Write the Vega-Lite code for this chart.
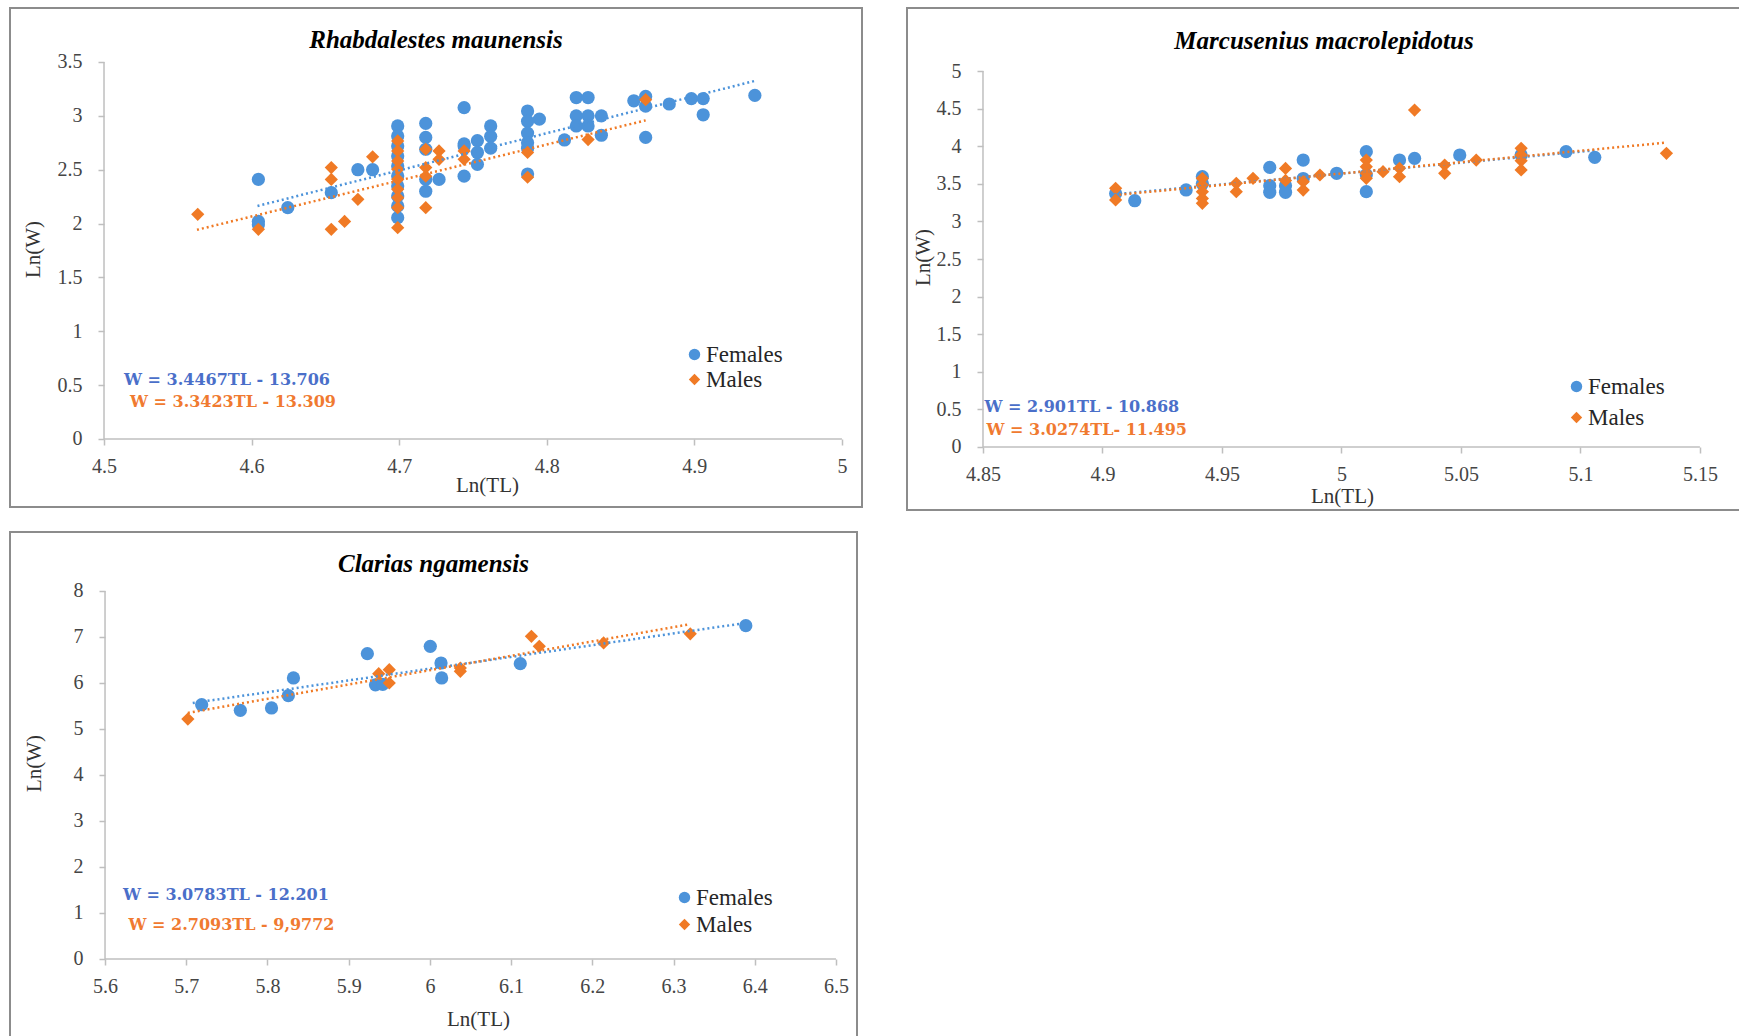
{
  "$schema": "https://vega.github.io/schema/vega-lite/v6.json",
  "padding": {"left": 9, "top": 7, "right": 0, "bottom": 0},
  "background": "white",
  "config": {
    "view": {"stroke": "#8c8c8c", "strokeWidth": 2},
    "axis": {"grid": false, "domain": false, "tickColor": "#bfbfbf", "tickWidth": 1.5, "tickSize": 6, "labelFont": "Liberation Serif", "labelFontSize": 20, "labelColor": "#454545", "titleFont": "Liberation Serif", "titleFontSize": 21, "titleFontWeight": "normal", "titleColor": "#333333"},
    "axisX": {"labelPadding": 11},
    "axisY": {"labelPadding": 16},
    "legend": {"labelFont": "Liberation Serif", "labelFontSize": 23, "labelColor": "#262626", "symbolSize": 130, "symbolStrokeWidth": 0, "labelOffset": 0, "title": null},
    "title": {"font": "Liberation Serif", "fontStyle": "italic", "fontWeight": "bold", "fontSize": 25, "color": "#000000", "anchor": "middle", "frame": "group", "baseline": "middle"}
  },
  "datasets": {
    "p1": [
      {"sex":"Females","TL":4.6046,"W":2.41},{"sex":"Females","TL":4.6046,"W":2.02},{"sex":"Females","TL":4.6046,"W":1.99},{"sex":"Females","TL":4.6245,"W":2.148},{"sex":"Females","TL":4.654,"W":2.287},{"sex":"Females","TL":4.672,"W":2.5},{"sex":"Females","TL":4.682,"W":2.5},
      {"sex":"Females","TL":4.699,"W":2.906},{"sex":"Females","TL":4.699,"W":2.813},{"sex":"Females","TL":4.699,"W":2.72},{"sex":"Females","TL":4.699,"W":2.627},{"sex":"Females","TL":4.699,"W":2.535},{"sex":"Females","TL":4.699,"W":2.442},{"sex":"Females","TL":4.699,"W":2.349},{"sex":"Females","TL":4.699,"W":2.256},{"sex":"Females","TL":4.699,"W":2.163},{"sex":"Females","TL":4.699,"W":2.055},
      {"sex":"Females","TL":4.718,"W":2.93},{"sex":"Females","TL":4.718,"W":2.8},{"sex":"Females","TL":4.718,"W":2.69},{"sex":"Females","TL":4.718,"W":2.41},{"sex":"Females","TL":4.718,"W":2.3},
      {"sex":"Females","TL":4.727,"W":2.41},
      {"sex":"Females","TL":4.744,"W":3.076},{"sex":"Females","TL":4.744,"W":2.74},{"sex":"Females","TL":4.744,"W":2.72},{"sex":"Females","TL":4.744,"W":2.44},
      {"sex":"Females","TL":4.753,"W":2.77},{"sex":"Females","TL":4.753,"W":2.55},{"sex":"Females","TL":4.753,"W":2.66},
      {"sex":"Females","TL":4.762,"W":2.906},{"sex":"Females","TL":4.762,"W":2.81},{"sex":"Females","TL":4.762,"W":2.7},
      {"sex":"Females","TL":4.787,"W":3.045},{"sex":"Females","TL":4.787,"W":2.95},{"sex":"Females","TL":4.787,"W":2.84},{"sex":"Females","TL":4.787,"W":2.75},{"sex":"Females","TL":4.787,"W":2.7},{"sex":"Females","TL":4.787,"W":2.46},
      {"sex":"Females","TL":4.795,"W":2.97},{"sex":"Females","TL":4.812,"W":2.776},
      {"sex":"Females","TL":4.82,"W":3.17},{"sex":"Females","TL":4.82,"W":3.0},{"sex":"Females","TL":4.82,"W":2.906},
      {"sex":"Females","TL":4.828,"W":3.17},{"sex":"Females","TL":4.828,"W":3.0},{"sex":"Females","TL":4.828,"W":2.906},
      {"sex":"Females","TL":4.837,"W":3.0},{"sex":"Females","TL":4.837,"W":2.82},
      {"sex":"Females","TL":4.859,"W":3.14},{"sex":"Females","TL":4.867,"W":3.18},{"sex":"Females","TL":4.867,"W":3.09},{"sex":"Females","TL":4.867,"W":2.8},
      {"sex":"Females","TL":4.883,"W":3.11},{"sex":"Females","TL":4.898,"W":3.16},{"sex":"Females","TL":4.906,"W":3.16},{"sex":"Females","TL":4.906,"W":3.01},{"sex":"Females","TL":4.941,"W":3.19},
      {"sex":"Males","TL":4.5635,"W":2.086},{"sex":"Males","TL":4.6046,"W":1.947},{"sex":"Males","TL":4.654,"W":2.52},{"sex":"Males","TL":4.654,"W":2.41},{"sex":"Males","TL":4.654,"W":1.947},{"sex":"Males","TL":4.663,"W":2.02},{"sex":"Males","TL":4.672,"W":2.225},{"sex":"Males","TL":4.682,"W":2.62},
      {"sex":"Males","TL":4.699,"W":2.767},{"sex":"Males","TL":4.699,"W":2.674},{"sex":"Males","TL":4.699,"W":2.581},{"sex":"Males","TL":4.699,"W":2.504},{"sex":"Males","TL":4.699,"W":2.411},{"sex":"Males","TL":4.699,"W":2.318},{"sex":"Males","TL":4.699,"W":2.24},{"sex":"Males","TL":4.699,"W":2.147},{"sex":"Males","TL":4.699,"W":1.962},
      {"sex":"Males","TL":4.718,"W":2.69},{"sex":"Males","TL":4.718,"W":2.52},{"sex":"Males","TL":4.718,"W":2.44},{"sex":"Males","TL":4.718,"W":2.147},
      {"sex":"Males","TL":4.727,"W":2.674},{"sex":"Males","TL":4.727,"W":2.597},
      {"sex":"Males","TL":4.744,"W":2.674},{"sex":"Males","TL":4.744,"W":2.597},
      {"sex":"Males","TL":4.787,"W":2.66},{"sex":"Males","TL":4.787,"W":2.43},
      {"sex":"Males","TL":4.828,"W":2.78},{"sex":"Males","TL":4.867,"W":3.15}
    ],
    "p1t": [
      {"sex":"Females","TL":4.604,"W":2.163},{"sex":"Females","TL":4.942,"W":3.328},
      {"sex":"Males","TL":4.563,"W":1.942},{"sex":"Males","TL":4.867,"W":2.958}
    ],
    "p2": [
      {"sex":"Females","TL":4.9055,"W":3.37},{"sex":"Females","TL":4.9135,"W":3.275},{"sex":"Females","TL":4.935,"W":3.418},{"sex":"Females","TL":4.9418,"W":3.595},{"sex":"Females","TL":4.9418,"W":3.5},{"sex":"Females","TL":4.97,"W":3.718},{"sex":"Females","TL":4.97,"W":3.475},{"sex":"Females","TL":4.97,"W":3.387},{"sex":"Females","TL":4.9766,"W":3.475},{"sex":"Females","TL":4.9766,"W":3.387},{"sex":"Females","TL":4.984,"W":3.816},{"sex":"Females","TL":4.984,"W":3.57},{"sex":"Females","TL":4.998,"W":3.64},{"sex":"Females","TL":5.0104,"W":3.927},{"sex":"Females","TL":5.0104,"W":3.395},{"sex":"Females","TL":5.0104,"W":3.62},{"sex":"Females","TL":5.0243,"W":3.816},{"sex":"Females","TL":5.0306,"W":3.839},{"sex":"Females","TL":5.0495,"W":3.883},{"sex":"Females","TL":5.0752,"W":3.883},{"sex":"Females","TL":5.094,"W":3.927},{"sex":"Females","TL":5.106,"W":3.852},
      {"sex":"Males","TL":4.9055,"W":3.44},{"sex":"Males","TL":4.9055,"W":3.285},{"sex":"Males","TL":4.9418,"W":3.573},{"sex":"Males","TL":4.9418,"W":3.484},{"sex":"Males","TL":4.9418,"W":3.395},{"sex":"Males","TL":4.9418,"W":3.306},{"sex":"Males","TL":4.9418,"W":3.24},{"sex":"Males","TL":4.956,"W":3.506},{"sex":"Males","TL":4.956,"W":3.395},{"sex":"Males","TL":4.963,"W":3.573},{"sex":"Males","TL":4.9766,"W":3.705},{"sex":"Males","TL":4.9766,"W":3.545},{"sex":"Males","TL":4.984,"W":3.528},{"sex":"Males","TL":4.984,"W":3.417},{"sex":"Males","TL":4.991,"W":3.617},{"sex":"Males","TL":5.0104,"W":3.816},{"sex":"Males","TL":5.0104,"W":3.727},{"sex":"Males","TL":5.0104,"W":3.64},{"sex":"Males","TL":5.0104,"W":3.573},{"sex":"Males","TL":5.0174,"W":3.661},{"sex":"Males","TL":5.0243,"W":3.706},{"sex":"Males","TL":5.0243,"W":3.595},{"sex":"Males","TL":5.0306,"W":4.48},{"sex":"Males","TL":5.0432,"W":3.75},{"sex":"Males","TL":5.0432,"W":3.64},{"sex":"Males","TL":5.0564,"W":3.816},{"sex":"Males","TL":5.0752,"W":3.972},{"sex":"Males","TL":5.0752,"W":3.883},{"sex":"Males","TL":5.0752,"W":3.807},{"sex":"Males","TL":5.0752,"W":3.684},{"sex":"Males","TL":5.136,"W":3.905}
    ],
    "p2t": [
      {"sex":"Females","TL":4.905,"W":3.361},{"sex":"Females","TL":5.106,"W":3.944},
      {"sex":"Males","TL":4.905,"W":3.349},{"sex":"Males","TL":5.136,"W":4.048}
    ],
    "p3": [
      {"sex":"Females","TL":5.719,"W":5.528},{"sex":"Females","TL":5.7666,"W":5.406},{"sex":"Females","TL":5.805,"W":5.457},{"sex":"Females","TL":5.8257,"W":5.724},{"sex":"Females","TL":5.832,"W":6.109},{"sex":"Females","TL":5.923,"W":6.638},{"sex":"Females","TL":5.933,"W":5.96},{"sex":"Females","TL":5.942,"W":5.97},{"sex":"Females","TL":6.0005,"W":6.797},{"sex":"Females","TL":6.0137,"W":6.435},{"sex":"Females","TL":6.0145,"W":6.109},{"sex":"Females","TL":6.1113,"W":6.42},{"sex":"Females","TL":6.389,"W":7.246},
      {"sex":"Males","TL":5.702,"W":5.217},{"sex":"Males","TL":5.937,"W":6.203},{"sex":"Males","TL":5.95,"W":6.29},{"sex":"Males","TL":5.95,"W":6.0},{"sex":"Males","TL":6.0375,"W":6.326},{"sex":"Males","TL":6.0375,"W":6.254},{"sex":"Males","TL":6.125,"W":7.015},{"sex":"Males","TL":6.1347,"W":6.797},{"sex":"Males","TL":6.2139,"W":6.87},{"sex":"Males","TL":6.3206,"W":7.07}
    ],
    "p3t": [
      {"sex":"Females","TL":5.708,"W":5.565},{"sex":"Females","TL":6.383,"W":7.29},
      {"sex":"Males","TL":5.702,"W":5.35},{"sex":"Males","TL":6.3176,"W":7.27}
    ]
  },
  "resolve": {"scale": {"color": "independent", "shape": "independent"}, "legend": {"color": "independent", "shape": "independent"}},
  "spacing": 20,
  "vconcat": [
    {
      "hconcat": [
        {
          "width": 852, "height": 499,
          "title": {"text": "Rhabdalestes maunensis", "offset": -45},
          "layer": [
            {"data": {"name": "p1"}, "mark": {"type": "point", "filled": true, "size": 175, "opacity": 1},
             "encoding": {
               "x": {"field": "TL", "type": "quantitative", "scale": {"domain": [4.4363, 5.0136], "nice": false, "zero": false}, "axis": {"values": [4.5, 4.6, 4.7, 4.8, 4.9, 5], "format": "~g", "offset": -68, "title": "Ln(TL)", "titlePadding": -2, "titleX": 477}},
               "y": {"field": "W", "type": "quantitative", "scale": {"domain": [-0.6313, 4.0013], "nice": false, "zero": false}, "axis": {"values": [0, 0.5, 1, 1.5, 2, 2.5, 3, 3.5], "format": "~g", "offset": -94, "title": "Ln(W)", "titlePadding": 14, "titleY": 241}},
               "color": {"field": "sex", "type": "nominal", "scale": {"domain": ["Females", "Males"], "range": ["#4c93da", "#f07a25"]}, "legend": {"orient": "none", "legendX": 673, "legendY": 335, "rowPadding": 1}},
               "shape": {"field": "sex", "type": "nominal", "scale": {"domain": ["Females", "Males"], "range": ["circle", "diamond"]}, "legend": {"orient": "none", "legendX": 673, "legendY": 335, "rowPadding": 1}}
             }},
            {"data": {"name": "p1t"}, "mark": {"type": "line", "strokeDash": [2, 3], "strokeWidth": 2.5},
             "encoding": {"x": {"field": "TL", "type": "quantitative"}, "y": {"field": "W", "type": "quantitative"}, "color": {"field": "sex", "type": "nominal", "legend": null}}},
            {"data": {"values": [{}]}, "mark": {"type": "rule", "color": "#bfbfbf", "strokeWidth": 1.5}, "encoding": {"x": {"datum": 4.5, "type": "quantitative"}, "x2": {"datum": 5}, "y": {"datum": 0, "type": "quantitative"}}},
            {"data": {"values": [{}]}, "mark": {"type": "rule", "color": "#bfbfbf", "strokeWidth": 1.5}, "encoding": {"x": {"datum": 4.5, "type": "quantitative"}, "y": {"datum": 0, "type": "quantitative"}, "y2": {"datum": 3.5}}},
            {"data": {"values": [{}]}, "mark": {"type": "text", "text": "W = 3.4467TL - 13.706", "align": "left", "baseline": "middle", "font": "DejaVu Serif", "fontWeight": "bold", "fontSize": 16, "color": "#4a6fc9"},
             "encoding": {"x": {"datum": 4.5136, "type": "quantitative"}, "y": {"datum": 0.548, "type": "quantitative"}}},
            {"data": {"values": [{}]}, "mark": {"type": "text", "text": "W = 3.3423TL - 13.309", "align": "left", "baseline": "middle", "font": "DejaVu Serif", "fontWeight": "bold", "fontSize": 16, "color": "#f07a30"},
             "encoding": {"x": {"datum": 4.5176, "type": "quantitative"}, "y": {"datum": 0.339, "type": "quantitative"}}}
          ]
        },
        {
          "width": 834, "height": 502,
          "title": {"text": "Marcusenius macrolepidotus", "offset": -46},
          "layer": [
            {"data": {"name": "p2"}, "mark": {"type": "point", "filled": true, "size": 175, "opacity": 1},
             "encoding": {
               "x": {"field": "TL", "type": "quantitative", "scale": {"domain": [4.8182, 5.1672], "nice": false, "zero": false}, "axis": {"values": [4.85, 4.9, 4.95, 5, 5.05, 5.1, 5.15], "format": "~g", "offset": -63, "title": "Ln(TL)", "titlePadding": 1, "titleX": 435}},
               "y": {"field": "W", "type": "quantitative", "scale": {"domain": [-0.8378, 5.8378], "nice": false, "zero": false}, "axis": {"values": [0, 0.5, 1, 1.5, 2, 2.5, 3, 3.5, 4, 4.5, 5], "format": "~g", "offset": -76, "title": "Ln(W)", "titlePadding": 3, "titleY": 249}},
               "color": {"field": "sex", "type": "nominal", "scale": {"domain": ["Females", "Males"], "range": ["#4c93da", "#f07a25"]}, "legend": {"orient": "none", "legendX": 658, "legendY": 367, "rowPadding": 7}},
               "shape": {"field": "sex", "type": "nominal", "scale": {"domain": ["Females", "Males"], "range": ["circle", "diamond"]}, "legend": {"orient": "none", "legendX": 658, "legendY": 367, "rowPadding": 7}}
             }},
            {"data": {"name": "p2t"}, "mark": {"type": "line", "strokeDash": [2, 3], "strokeWidth": 2.5},
             "encoding": {"x": {"field": "TL", "type": "quantitative"}, "y": {"field": "W", "type": "quantitative"}, "color": {"field": "sex", "type": "nominal", "legend": null}}},
            {"data": {"values": [{}]}, "mark": {"type": "rule", "color": "#bfbfbf", "strokeWidth": 1.5}, "encoding": {"x": {"datum": 4.85, "type": "quantitative"}, "x2": {"datum": 5.15}, "y": {"datum": 0, "type": "quantitative"}}},
            {"data": {"values": [{}]}, "mark": {"type": "rule", "color": "#bfbfbf", "strokeWidth": 1.5}, "encoding": {"x": {"datum": 4.85, "type": "quantitative"}, "y": {"datum": 0, "type": "quantitative"}, "y2": {"datum": 5}}},
            {"data": {"values": [{}]}, "mark": {"type": "text", "text": "W = 2.901TL - 10.868", "align": "left", "baseline": "middle", "font": "DejaVu Serif", "fontWeight": "bold", "fontSize": 16, "color": "#4a6fc9"},
             "encoding": {"x": {"datum": 4.8506, "type": "quantitative"}, "y": {"datum": 0.53, "type": "quantitative"}}},
            {"data": {"values": [{}]}, "mark": {"type": "text", "text": "W = 3.0274TL- 11.495", "align": "left", "baseline": "middle", "font": "DejaVu Serif", "fontWeight": "bold", "fontSize": 16, "color": "#f07a30"},
             "encoding": {"x": {"datum": 4.8515, "type": "quantitative"}, "y": {"datum": 0.222, "type": "quantitative"}}}
          ]
        }
      ],
      "spacing": 43,
      "resolve": {"scale": {"color": "independent", "shape": "independent"}, "legend": {"color": "independent", "shape": "independent"}}
    },
    {
      "width": 847, "height": 506,
      "title": {"text": "Clarias ngamensis", "offset": -45},
      "layer": [
        {"data": {"name": "p3"}, "mark": {"type": "point", "filled": true, "size": 175, "opacity": 1},
         "encoding": {
           "x": {"field": "TL", "type": "quantitative", "scale": {"domain": [5.483, 6.5259], "nice": false, "zero": false}, "axis": {"values": [5.6, 5.7, 5.8, 5.9, 6, 6.1, 6.2, 6.3, 6.4, 6.5], "format": "~g", "offset": -79, "title": "Ln(TL)", "titlePadding": 12, "titleX": 468}},
           "y": {"field": "W", "type": "quantitative", "scale": {"domain": [-1.7174, 9.2826], "nice": false, "zero": false}, "axis": {"values": [0, 1, 2, 3, 4, 5, 6, 7, 8], "format": "~g", "offset": -95, "title": "Ln(W)", "titlePadding": 29, "titleY": 231}},
           "color": {"field": "sex", "type": "nominal", "scale": {"domain": ["Females", "Males"], "range": ["#4c93da", "#f07a25"]}, "legend": {"orient": "none", "legendX": 663, "legendY": 354, "rowPadding": 3}},
           "shape": {"field": "sex", "type": "nominal", "scale": {"domain": ["Females", "Males"], "range": ["circle", "diamond"]}, "legend": {"orient": "none", "legendX": 663, "legendY": 354, "rowPadding": 3}}
         }},
        {"data": {"name": "p3t"}, "mark": {"type": "line", "strokeDash": [2, 3], "strokeWidth": 2.5},
         "encoding": {"x": {"field": "TL", "type": "quantitative"}, "y": {"field": "W", "type": "quantitative"}, "color": {"field": "sex", "type": "nominal", "legend": null}}},
        {"data": {"values": [{}]}, "mark": {"type": "rule", "color": "#bfbfbf", "strokeWidth": 1.5}, "encoding": {"x": {"datum": 5.6, "type": "quantitative"}, "x2": {"datum": 6.5}, "y": {"datum": 0, "type": "quantitative"}}},
        {"data": {"values": [{}]}, "mark": {"type": "rule", "color": "#bfbfbf", "strokeWidth": 1.5}, "encoding": {"x": {"datum": 5.6, "type": "quantitative"}, "y": {"datum": 0, "type": "quantitative"}, "y2": {"datum": 8}}},
        {"data": {"values": [{}]}, "mark": {"type": "text", "text": "W = 3.0783TL - 12.201", "align": "left", "baseline": "middle", "font": "DejaVu Serif", "fontWeight": "bold", "fontSize": 16, "color": "#4a6fc9"},
         "encoding": {"x": {"datum": 5.622, "type": "quantitative"}, "y": {"datum": 1.4, "type": "quantitative"}}},
        {"data": {"values": [{}]}, "mark": {"type": "text", "text": "W = 2.7093TL - 9,9772", "align": "left", "baseline": "middle", "font": "DejaVu Serif", "fontWeight": "bold", "fontSize": 16, "color": "#f07a30"},
         "encoding": {"x": {"datum": 5.629, "type": "quantitative"}, "y": {"datum": 0.748, "type": "quantitative"}}}
      ]
    }
  ]
}
